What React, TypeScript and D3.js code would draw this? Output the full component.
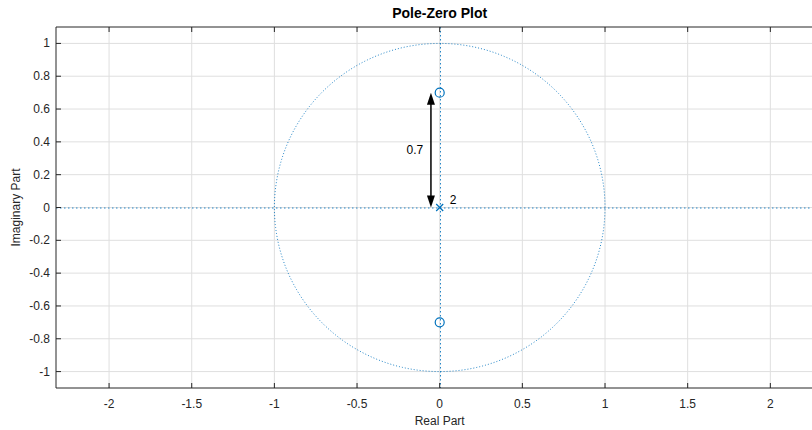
import React from "react";
import * as d3 from "d3";

const xTicks = [-2, -1.5, -1, -0.5, 0, 0.5, 1, 1.5, 2];
const yTicks = [-1, -0.8, -0.6, -0.4, -0.2, 0, 0.2, 0.4, 0.6, 0.8, 1];
const zerosRe = [0, 0];
const zerosIm = [0.7, -0.7];
const polesRe = [0];
const polesIm = [0];
const poleMultiplicity = ["2"];
const xDomain = [-2.321, 2.321];
const yDomain = [-1.1, 1.1];
const arrowX = -0.053;
const arrowFrom = 0;
const arrowTo = 0.7;
const arrowLabel = "0.7";

const W = 812;
const H = 430;
const M = { left: 56, top: 27, right: 823.4, bottom: 388 };
const BLUE = "#0072BD";
const AX = "#262626";
const FONT = "'Liberation Sans', Arial, Helvetica, sans-serif";

export default function App() {
  const x = d3.scaleLinear().domain(xDomain).range([M.left, M.right]);
  const y = d3.scaleLinear().domain(yDomain).range([M.bottom, M.top]);
  const fmt = (v: number) => (v === 0 ? "0" : String(v));

  const circlePts = d3.range(0, 361, 1).map((a) => [Math.cos((a * Math.PI) / 180), Math.sin((a * Math.PI) / 180)]);
  const circlePath = d3.line<number[]>().x((d) => x(d[0])).y((d) => y(d[1]))(circlePts) || "";

  const ax = x(arrowX);
  const y0 = y(arrowFrom);
  const y1 = y(arrowTo);
  const headL = 12;
  const headW = 4;
  const vx = Math.round(x(0)) + 0.5;

  return (
    <svg width={W} height={H} style={{ position: "absolute", left: 0, top: 0, background: "#fff" }} fontFamily={FONT}>
      <defs>
        <clipPath id="plotclip">
          <rect x={M.left} y={M.top} width={M.right - M.left} height={M.bottom - M.top} />
        </clipPath>
      </defs>
      <rect x={0} y={0} width={W} height={H} fill="#fff" />
      {/* grid */}
      <g stroke="#dfdfdf" strokeWidth={1}>
        {xTicks.map((t) => (
          <line key={"gx" + t} x1={x(t)} x2={x(t)} y1={M.top} y2={M.bottom} />
        ))}
        {yTicks.map((t) => (
          <line key={"gy" + t} x1={M.left} x2={M.right} y1={y(t)} y2={y(t)} />
        ))}
      </g>
      <g clipPath="url(#plotclip)">
        {/* unit circle and axes lines */}
        <path d={circlePath} fill="none" stroke={BLUE} strokeOpacity={0.85} strokeWidth={1} strokeDasharray="1 2" />
        <line x1={M.left} x2={M.right} y1={y(0) + 0.5} y2={y(0) + 0.5} stroke={BLUE} strokeOpacity={0.85} strokeWidth={1} strokeDasharray="1.5 2.5" />
        <line x1={vx} x2={vx} y1={M.top} y2={M.bottom} stroke={BLUE} strokeOpacity={0.85} strokeWidth={1} strokeDasharray="1.5 2.5" />
        {/* zeros */}
        {zerosRe.map((r, i) => (
          <circle key={"z" + i} cx={x(r)} cy={y(zerosIm[i])} r={4.5} fill="none" stroke={BLUE} strokeWidth={1.2} />
        ))}
        {/* poles */}
        {polesRe.map((r, i) => {
          const cx = x(r);
          const cy = y(polesIm[i]);
          const s = 3.5;
          return (
            <g key={"p" + i} stroke={BLUE} strokeWidth={1.2}>
              <line x1={cx - s} y1={cy - s} x2={cx + s} y2={cy + s} />
              <line x1={cx - s} y1={cy + s} x2={cx + s} y2={cy - s} />
            </g>
          );
        })}
        {polesRe.map((r, i) => (
          <text key={"pl" + i} x={x(r) + 10} y={y(polesIm[i]) - 4} fontSize={12} fill="#000">
            {poleMultiplicity[i]}
          </text>
        ))}
        {/* arrow */}
        <line x1={ax} x2={ax} y1={y1 + headL - 2} y2={y0 - headL + 2} stroke="#000" strokeWidth={1.5} />
        <path d={`M${ax},${y1} L${ax - headW},${y1 + headL} L${ax + headW},${y1 + headL} Z`} fill="#000" />
        <path d={`M${ax},${y0} L${ax - headW},${y0 - headL} L${ax + headW},${y0 - headL} Z`} fill="#000" />
        <text x={ax - 16} y={(y0 + y1) / 2 + 4} fontSize={12} textAnchor="middle" fill="#000">
          {arrowLabel}
        </text>
      </g>
      {/* axes box */}
      <g stroke={AX} strokeWidth={1} fill="none">
        <line x1={M.left} x2={M.right} y1={M.top} y2={M.top} />
        <line x1={M.left} x2={M.right} y1={M.bottom} y2={M.bottom} />
        <line x1={M.left} x2={M.left} y1={M.top} y2={M.bottom} />
        <line x1={M.right} x2={M.right} y1={M.top} y2={M.bottom} />
        {xTicks.map((t) => (
          <g key={"tx" + t}>
            <line x1={x(t)} x2={x(t)} y1={M.bottom} y2={M.bottom - 5} />
            <line x1={x(t)} x2={x(t)} y1={M.top} y2={M.top + 5} />
          </g>
        ))}
        {yTicks.map((t) => (
          <g key={"ty" + t}>
            <line x1={M.left} x2={M.left + 5} y1={y(t)} y2={y(t)} />
            <line x1={M.right} x2={M.right - 5} y1={y(t)} y2={y(t)} />
          </g>
        ))}
      </g>
      {/* tick labels */}
      <g fontSize={12} fill={AX}>
        {xTicks.map((t) => (
          <text key={"lx" + t} x={x(t)} y={M.bottom + 20} textAnchor="middle">
            {fmt(t)}
          </text>
        ))}
        {yTicks.map((t) => (
          <text key={"ly" + t} x={M.left - 6} y={y(t) + 4} textAnchor="end">
            {fmt(t)}
          </text>
        ))}
      </g>
      <text x={(M.left + M.right) / 2} y={18} fontSize={14} fontWeight="bold" textAnchor="middle" fill="#000">
        Pole-Zero Plot
      </text>
      <text x={(M.left + M.right) / 2} y={425} fontSize={12} textAnchor="middle" fill={AX}>
        Real Part
      </text>
      <text transform={`translate(20,${(M.top + M.bottom) / 2}) rotate(-90)`} fontSize={12} textAnchor="middle" fill={AX}>
        Imaginary Part
      </text>
    </svg>
  );
}
